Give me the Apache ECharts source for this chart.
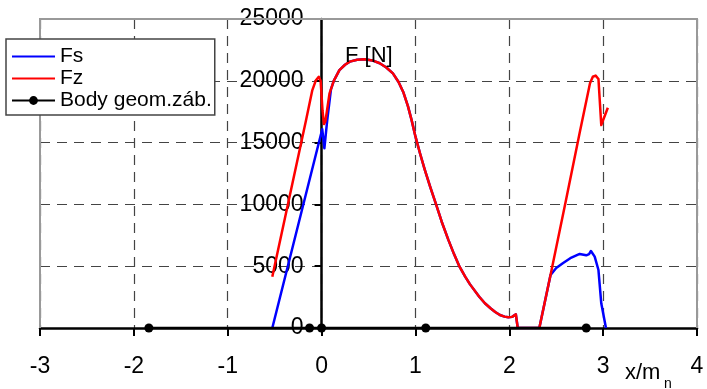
<!DOCTYPE html>
<html>
<head>
<meta charset="utf-8">
<script src="https://cdn.jsdelivr.net/npm/echarts@6/dist/echarts.min.js"></script>
<style>
  html, body { margin: 0; padding: 0; background: #fff; }
  #chart { width: 707px; height: 389px; }
</style>
</head>
<body>
<div id="chart"></div>
<script>
// Force along the tooth flank, x/m_n vs F [N]
const fsX = [-0.525, 0.007, 0.03, 0.06, 0.1, 0.13, 0.19, 0.25, 0.3, 0.38, 0.46, 0.54, 0.62, 0.69, 0.76, 0.82, 0.87, 0.92, 0.96, 1.0, 1.05, 1.1, 1.16, 1.22, 1.28, 1.35, 1.41, 1.47, 1.53, 1.58, 1.68, 1.74, 1.8, 1.85, 1.9, 1.95, 1.99, 2.03, 2.05, 2.07, 2.08, 2.09, 2.32, 2.44, 2.5, 2.57, 2.65, 2.75, 2.82, 2.85, 2.87, 2.91, 2.95, 2.98, 3.03];
const fsY = [0, 16080, 14540, 16800, 19300, 20000, 20870, 21300, 21550, 21700, 21740, 21650, 21420, 21080, 20600, 19900, 19100, 17950, 16800, 15500, 14100, 12800, 11350, 10000, 8600, 7150, 6000, 4960, 4150, 3550, 2530, 2000, 1600, 1300, 1050, 920, 865, 900, 950, 1100, 1130, 0, 0, 4300, 4850, 5240, 5650, 5990, 5880, 5980, 6230, 5770, 4690, 2000, 0];

const fzX = [-0.525, -0.165, -0.1, -0.06, -0.03, -0.01, 0.01, 0.025, 0.04, 0.06, 0.085, 0.13, 0.19, 0.25, 0.3, 0.38, 0.46, 0.54, 0.62, 0.69, 0.76, 0.82, 0.87, 0.92, 0.96, 1.0, 1.05, 1.1, 1.16, 1.22, 1.28, 1.35, 1.41, 1.47, 1.53, 1.58, 1.68, 1.74, 1.8, 1.85, 1.9, 1.95, 1.99, 2.03, 2.05, 2.07, 2.08, 2.09, 2.32, 2.44, 2.6, 2.75, 2.86, 2.89, 2.92, 2.95, 2.98, 3.05];
const fzY = [4150, 16830, 19200, 20050, 20330, 20000, 17600, 16500, 16700, 17700, 18990, 20000, 20870, 21300, 21550, 21700, 21740, 21650, 21420, 21080, 20600, 19900, 19100, 17950, 16800, 15500, 14100, 12800, 11350, 10000, 8600, 7150, 6000, 4960, 4150, 3550, 2530, 2000, 1600, 1300, 1050, 920, 865, 900, 950, 1100, 1130, 0, 0, 4300, 10200, 15800, 19800, 20330, 20420, 20150, 16420, 17820];

const bodyX = [-1.84, -0.128, 0, 1.11, 2.82];
const bodyY = [0, 0, 0, 0, 0];

const xTicks = { min: -3, max: 4, step: 1 };
const yTicks = { min: 0, max: 25000, step: 5000 };

const seriesNames = ['Fs', 'Fz', 'Body geom.záb.'];

const zip = (xs, ys) => xs.map((x, i) => [x, ys[i]]);

const FONT = '"Liberation Sans", Arial, Helvetica, sans-serif';

// plot box in pixels
const GRID = { left: 40, right: 10, top: 19, bottom: 61 };
const W = 707, H = 389;
const plotW = W - GRID.left - GRID.right;
// the vertical axis sits at x = 0, inside the plot
const yAxisShift = -plotW * (0 - xTicks.min) / (xTicks.max - xTicks.min);

const chart = echarts.init(document.getElementById('chart'), null, { renderer: 'canvas' });

const gridLine = { show: true, lineStyle: { color: '#444', width: 1.2, type: [10, 7] } };

chart.setOption({
  animation: false,
  backgroundColor: '#fff',
  grid: Object.assign({ show: false, containLabel: false, outerBoundsMode: 'none' }, GRID),
  legend: {
    data: [
      { name: seriesNames[0], itemStyle: { opacity: 0 } },
      { name: seriesNames[1], itemStyle: { opacity: 0 } },
      { name: seriesNames[2] }
    ],
    orient: 'vertical',
    left: 6,
    top: 39,
    padding: [7, 3, 4, 5],
    itemGap: 1,
    itemWidth: 43,
    itemHeight: 11,
    backgroundColor: '#fff',
    borderColor: '#444',
    borderWidth: 1.5,
    borderRadius: 0,
    textStyle: { fontFamily: FONT, fontSize: 21, color: '#000' }
  },
  xAxis: {
    type: 'value',
    min: xTicks.min, max: xTicks.max, interval: xTicks.step,
    axisLine: { onZero: true, lineStyle: { color: '#000', width: 2.5 } },
    axisTick: { show: true, inside: false, length: 8, lineStyle: { color: '#000', width: 2 } },
    axisLabel: { margin: 27, fontFamily: FONT, fontSize: 23, color: '#000', formatter: v => String(v) },
    splitLine: gridLine
  },
  yAxis: {
    type: 'value',
    min: yTicks.min, max: yTicks.max, interval: yTicks.step,
    offset: yAxisShift,
    axisLine: { show: true, onZero: false, lineStyle: { color: '#000', width: 2.5 } },
    axisTick: { show: true, inside: false, length: 7, lineStyle: { color: '#000', width: 2 } },
    axisLabel: { margin: 18, fontFamily: FONT, fontSize: 23, color: '#000', formatter: v => String(v) },
    splitLine: gridLine
  },
  graphic: [
    {
      type: 'polyline', z: 3, silent: true,
      shape: { points: [[GRID.left, H - GRID.bottom], [GRID.left, GRID.top], [W - GRID.right, GRID.top], [W - GRID.right, H - GRID.bottom]] },
      style: { stroke: '#999', lineWidth: 2, fill: null }
    },
    {
      type: 'text', z: 5, left: 345, top: 45,
      style: { text: 'F [N]', font: '22px ' + FONT, fill: '#000' }
    },
    {
      type: 'text', z: 5, left: 625, top: 362,
      style: { text: 'x/m', font: '22px ' + FONT, fill: '#000' }
    },
    {
      type: 'text', z: 5, left: 664, top: 377,
      style: { text: 'n', font: '14px ' + FONT, fill: '#000' }
    }
  ],
  series: [
    {
      name: 'Fs', type: 'line', data: zip(fsX, fsY),
      symbol: 'none', showSymbol: false,
      lineStyle: { color: '#0000ff', width: 2.5, join: 'round' }, itemStyle: { color: '#0000ff' }
    },
    {
      name: 'Fz', type: 'line', data: zip(fzX, fzY),
      symbol: 'none', showSymbol: false,
      lineStyle: { color: '#ff0000', width: 2.5, join: 'round' }, itemStyle: { color: '#ff0000' }
    },
    {
      name: 'Body geom.záb.', type: 'line', data: zip(bodyX, bodyY),
      symbol: 'circle', symbolSize: 9, showSymbol: true,
      lineStyle: { color: '#000', width: 2.5 }, itemStyle: { color: '#000' }
    }
  ]
});
</script>
</body>
</html>
